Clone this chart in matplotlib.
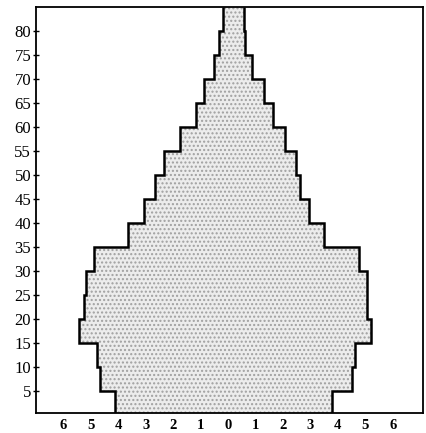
import numpy as np
import matplotlib
matplotlib.use("Agg")
import matplotlib.pyplot as plt

# 年龄组（5岁一组）及左右两侧人口比例（%）
age_edges = np.arange(0, 90, 5)
left_pct = [4.11, 4.65, 4.77, 5.44, 5.26, 5.16, 4.90, 3.66, 3.08,
            2.65, 2.35, 1.75, 1.16, 0.87, 0.53, 0.33, 0.17]
right_pct = [3.80, 4.50, 4.64, 5.21, 5.07, 5.05, 4.76, 3.50, 2.95,
             2.62, 2.49, 2.08, 1.62, 1.32, 0.88, 0.63, 0.57]

y_ticks = list(range(5, 85, 5))
x_ticks = [-6, -5, -4, -3, -2, -1, 0, 1, 2, 3, 4, 5, 6]
x_labels = [str(abs(v)) for v in x_ticks]

fig = plt.figure(figsize=(4.27, 4.33), dpi=100)
ax = fig.add_axes([0.0843, 0.0462, 0.9063, 0.9376])

left = np.array(left_pct)
right = np.array(right_pct)
starts = age_edges[:-1]

# 填充（灰色点状）
ax.barh(starts, left + right, height=5, left=-left, align="edge",
        color="#ececec", edgecolor="#a0a0a0", hatch="....", linewidth=0)

# 外轮廓阶梯线
ax.stairs(right, age_edges, orientation="horizontal", baseline=None,
          color="black", linewidth=1.8)
ax.stairs(-left, age_edges, orientation="horizontal", baseline=None,
          color="black", linewidth=1.8)

ax.set_xlim(-7.0, 7.1)
ax.set_ylim(0.5, 85)

ax.set_yticks(y_ticks)
ax.set_yticklabels([str(v) for v in y_ticks], family="Liberation Serif",
                   fontsize=12)
ax.tick_params(axis="y", direction="inout", length=5, width=1, pad=1)

ax.set_xticks(x_ticks)
ax.set_xticklabels(x_labels, family="Liberation Serif", fontsize=10.5,
                   fontweight="bold")
ax.tick_params(axis="x", length=0, pad=4)

for s in ax.spines.values():
    s.set_linewidth(1.3)
    s.set_color("black")

fig.savefig("out.png", dpi=100)
